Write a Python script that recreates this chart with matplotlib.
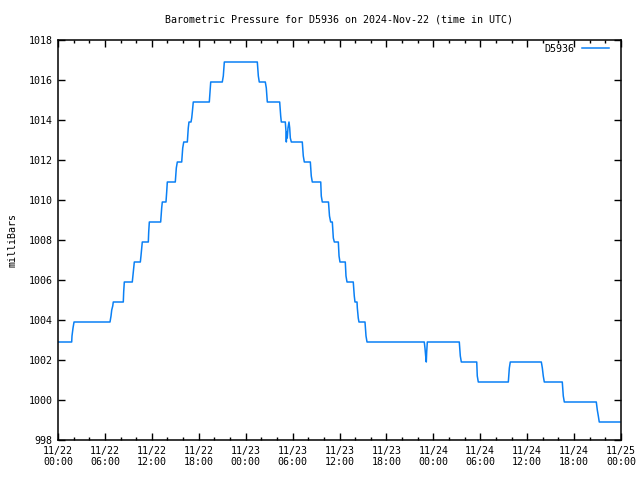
import matplotlib
matplotlib.use("Agg")
import matplotlib.pyplot as plt
from matplotlib.ticker import MultipleLocator

# hours since 2024-11-22 00:00 UTC
hours = [0.00, 1.75, 1.79, 1.92, 2.05,
         6.65, 6.78, 6.87, 7.00, 7.07,
         8.35, 8.40, 8.48,
         9.50, 9.63, 9.76,
         10.53, 10.61, 10.78,
         11.55, 11.60, 11.68,
         13.13, 13.26, 13.34,
         13.81, 13.90, 13.98,
         15.00, 15.13, 15.26,
         15.82, 15.95, 16.08,
         16.54, 16.66, 16.75,
         17.01, 17.10, 17.18, 17.30,
         19.35, 19.44, 19.53,
         21.01, 21.14, 21.27,
         25.49, 25.62, 25.74,
         26.51, 26.64, 26.73, 26.77,
         28.35, 28.48, 28.56,
         29.07, 29.16, 29.20, 29.25, 29.32, 29.41, 29.54, 29.63, 29.71, 29.84,
         31.24, 31.37, 31.50,
         32.27, 32.39, 32.52,
         33.60, 33.67, 33.80,
         34.59, 34.72, 34.87,
         35.08, 35.13, 35.21, 35.34,
         35.85, 35.94, 36.06,
         36.74, 36.83, 36.96,
         37.76, 37.89, 37.98,
         38.24, 38.28, 38.40, 38.49,
         39.26, 39.39, 39.52,
         46.84, 46.93, 47.02, 47.10, 47.15, 47.23,
         51.32, 51.45, 51.58,
         53.55, 53.62, 53.75,
         57.59, 57.72, 57.84,
         61.81, 61.94, 62.06, 62.19,
         64.49, 64.62, 64.75,
         68.84, 68.97, 69.10, 69.22,
         71.87]

pressure = [1002.9, 1002.9, 1003.2, 1003.6, 1003.9,
            1003.9, 1004.2, 1004.5, 1004.7, 1004.9,
            1004.9, 1005.4, 1005.9,
            1005.9, 1006.4, 1006.9,
            1006.9, 1007.2, 1007.9,
            1007.9, 1008.4, 1008.9,
            1008.9, 1009.6, 1009.9,
            1009.9, 1010.4, 1010.9,
            1010.9, 1011.6, 1011.9,
            1011.9, 1012.6, 1012.9,
            1012.9, 1013.6, 1013.9,
            1013.9, 1014.1, 1014.4, 1014.9,
            1014.9, 1015.4, 1015.9,
            1015.9, 1016.2, 1016.9,
            1016.9, 1016.2, 1015.9,
            1015.9, 1015.6, 1015.1, 1014.9,
            1014.9, 1014.2, 1013.9,
            1013.9, 1013.4, 1012.9, 1013.4, 1013.1, 1013.6, 1013.9, 1013.6, 1013.1, 1012.9,
            1012.9, 1012.2, 1011.9,
            1011.9, 1011.2, 1010.9,
            1010.9, 1010.2, 1009.9,
            1009.9, 1009.2, 1008.9,
            1008.9, 1008.6, 1008.1, 1007.9,
            1007.9, 1007.2, 1006.9,
            1006.9, 1006.2, 1005.9,
            1005.9, 1005.2, 1004.9,
            1004.9, 1004.6, 1004.1, 1003.9,
            1003.9, 1003.2, 1002.9,
            1002.9, 1002.6, 1002.2, 1001.9, 1002.4, 1002.9,
            1002.9, 1002.2, 1001.9,
            1001.9, 1001.2, 1000.9,
            1000.9, 1001.6, 1001.9,
            1001.9, 1001.6, 1001.2, 1000.9,
            1000.9, 1000.2, 999.9,
            999.9, 999.5, 999.2, 998.9,
            998.9]

xtick_hours = [0, 6, 12, 18, 24, 30, 36, 42, 48, 54, 60, 66, 72]
xtick_labels = ["11/22\n00:00", "11/22\n06:00", "11/22\n12:00", "11/22\n18:00",
                "11/23\n00:00", "11/23\n06:00", "11/23\n12:00", "11/23\n18:00",
                "11/24\n00:00", "11/24\n06:00", "11/24\n12:00", "11/24\n18:00",
                "11/25\n00:00"]
yticks = [998, 1000, 1002, 1004, 1006, 1008, 1010, 1012, 1014, 1016, 1018]

plt.rcParams['font.family'] = ['DejaVu Sans Mono']
plt.rcParams['font.size'] = 7.2

fig = plt.figure(figsize=(6.4, 4.8), dpi=100)
ax = fig.add_axes([58/640, 40/480, (621-58)/640, 400/480])

ax.plot(hours, pressure, color='#0a80f5', linewidth=1.1, label='D5936')

ax.set_xlim(0, 72)
ax.set_ylim(998, 1018)
ax.set_xticks(xtick_hours)
ax.set_xticklabels(xtick_labels)
ax.xaxis.set_minor_locator(MultipleLocator(2))
ax.set_yticks(yticks)
ax.set_yticklabels([str(v) for v in yticks])

ax.tick_params(axis='both', which='major', direction='in', length=5, width=1,
               top=True, right=True, pad=4, labelsize=7.2)
ax.tick_params(axis='x', which='minor', direction='in', length=2.5, width=1,
               top=True, bottom=True)
for s in ax.spines.values():
    s.set_linewidth(1.1)

ax.set_ylabel('milliBars', fontsize=7.2, labelpad=8)
fig.text(339/640, 1 - 19/480,
         'Barometric Pressure for D5936 on 2024-Nov-22 (time in UTC)',
         ha='center', va='center', fontsize=7.2)

leg = ax.legend(loc='upper right', frameon=False, markerfirst=False,
                handlelength=2.7, handletextpad=0.8, borderaxespad=0.0,
                borderpad=0.0, bbox_to_anchor=(1 - 12/563, 1 - 4/400),
                fontsize=7.2)

fig.savefig('out.png', dpi=100)
